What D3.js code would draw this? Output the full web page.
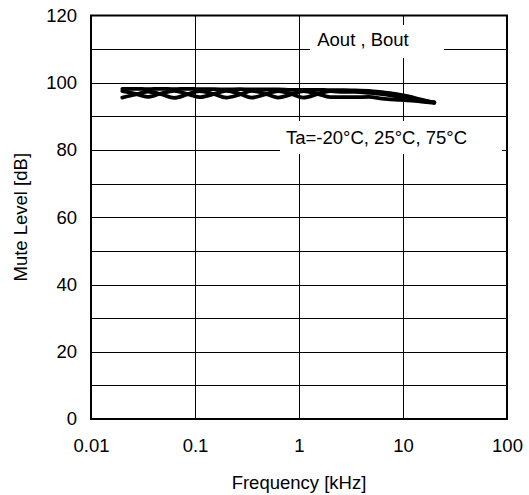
<!DOCTYPE html>
<html>
<head>
<meta charset="utf-8">
<script src="https://cdn.jsdelivr.net/npm/d3@7"></script>
<style>
  html, body { margin: 0; padding: 0; background: #fff; }
  svg { display: block; }
  text { font-family: "Liberation Sans", Arial, sans-serif; fill: #000; }
</style>
</head>
<body>
<svg id="chart" width="529" height="495"></svg>
<script>
// ---- data ----
const freqs = [0.02, 0.027, 0.035, 0.047, 0.063, 0.084, 0.11, 0.15, 0.2, 0.27, 0.35, 0.47, 0.63, 0.84, 1.1, 1.5, 2, 2.7, 3.5, 4.7, 6.3, 8.4, 11, 15, 20];
const muteA = [98.2, 98.2, 98.1, 98.2, 98.1, 98.2, 98.1, 98.1, 98.0, 98.1, 98.0, 98.0, 98.0, 97.9, 97.9, 97.9, 97.8, 97.8, 97.7, 97.6, 97.2, 96.7, 96.0, 95.0, 94.1];
const muteB = [97.5, 96.7, 95.8, 96.8, 97.6, 96.7, 95.7, 96.6, 97.6, 96.7, 95.6, 96.5, 97.5, 96.7, 95.6, 96.6, 97.5, 97.3, 97.3, 97.0, 96.6, 96.0, 95.4, 94.7, 94.2];
const muteC = [95.6, 96.5, 97.4, 96.6, 95.5, 96.5, 97.5, 96.7, 95.6, 96.5, 97.6, 96.8, 95.6, 96.5, 97.5, 96.7, 95.7, 95.7, 95.7, 95.8, 95.3, 95.0, 94.8, 94.4, 94.0];
const series = [muteA, muteB, muteC];
const xTicks = [0.01, 0.1, 1, 10, 100];
const xTickLabels = ["0.01", "0.1", "1", "10", "100"];
const yTicks = [0, 20, 40, 60, 80, 100, 120];
const yGrid = [10, 20, 30, 40, 50, 60, 70, 80, 90, 100, 110];
const labelOut = "Aout , Bout";
const labelTa = "Ta=-20°C, 25°C, 75°C";
const xTitle = "Frequency [kHz]";
const yTitle = "Mute Level [dB]";

// ---- layout ----
const L = 91, R = 507, T = 15.5, B = 419;
const svg = d3.select("#chart");
svg.append("rect").attr("width", 529).attr("height", 495).attr("fill", "#fff");

const x = d3.scaleLog().domain([0.01, 100]).range([L, R]);
const y = d3.scaleLinear().domain([0, 120]).range([B, T]);
const FS = 18.5;

// grid
const g = svg.append("g");
g.selectAll("line.h").data(yGrid).join("line")
  .attr("x1", L).attr("x2", R)
  .attr("y1", d => Math.round(y(d)) + 0.5).attr("y2", d => Math.round(y(d)) + 0.5)
  .attr("stroke", "#000").attr("stroke-width", 1);
g.selectAll("line.v").data(xTicks.slice(1, -1)).join("line")
  .attr("y1", T).attr("y2", B)
  .attr("x1", d => Math.round(x(d)) + 0.5).attr("x2", d => Math.round(x(d)) + 0.5)
  .attr("stroke", "#000").attr("stroke-width", 1);

// white boxes behind labels
svg.append("rect").attr("x", 310).attr("y", 25).attr("width", 134).attr("height", 33).attr("fill", "#fff");
svg.append("rect").attr("x", 280).attr("y", 121).attr("width", 222).attr("height", 33).attr("fill", "#fff");

// curves
const line = d3.line()
  .x((d, i) => x(freqs[i]))
  .y(d => y(d))
  .curve(d3.curveMonotoneX);
svg.selectAll("path.curve").data(series).join("path")
  .attr("class", "curve")
  .attr("d", d => line(d))
  .attr("fill", "none")
  .attr("stroke", "#000")
  .attr("stroke-width", 3.8)
  .attr("stroke-linejoin", "round")
  .attr("stroke-linecap", "round");

// frame
svg.append("rect").attr("x", L).attr("y", T).attr("width", R - L).attr("height", B - T)
  .attr("fill", "none").attr("stroke", "#000").attr("stroke-width", 2);

// axes (labels via d3 axes, domain hidden)
const xAxis = d3.axisBottom(x).tickValues(xTicks).tickFormat((d, i) => xTickLabels[i]).tickSize(0).tickPadding(20);
const xg = svg.append("g").attr("transform", `translate(0,${B})`).call(xAxis);
xg.select(".domain").remove();
xg.selectAll("text").attr("font-size", FS).attr("font-family", "Liberation Sans, Arial, sans-serif").attr("fill", "#000");

const yAxis = d3.axisLeft(y).tickValues(yTicks).tickFormat(d3.format("d")).tickSize(0).tickPadding(14);
const yg = svg.append("g").attr("transform", `translate(${L},0)`).call(yAxis);
yg.select(".domain").remove();
yg.selectAll("text").attr("font-size", FS).attr("font-family", "Liberation Sans, Arial, sans-serif").attr("fill", "#000");

// annotations
svg.append("text").attr("x", 363).attr("y", 46).attr("text-anchor", "middle")
  .attr("font-size", FS).text(labelOut);
svg.append("text").attr("x", 286).attr("y", 144).attr("text-anchor", "start")
  .attr("font-size", FS).text(labelTa);

// titles
svg.append("text").attr("x", (L + R) / 2).attr("y", 489).attr("text-anchor", "middle")
  .attr("font-size", FS).text(xTitle);
svg.append("text").attr("transform", `translate(27,${(T + B) / 2}) rotate(-90)`)
  .attr("text-anchor", "middle").attr("font-size", FS).text(yTitle);
</script>
</body>
</html>
